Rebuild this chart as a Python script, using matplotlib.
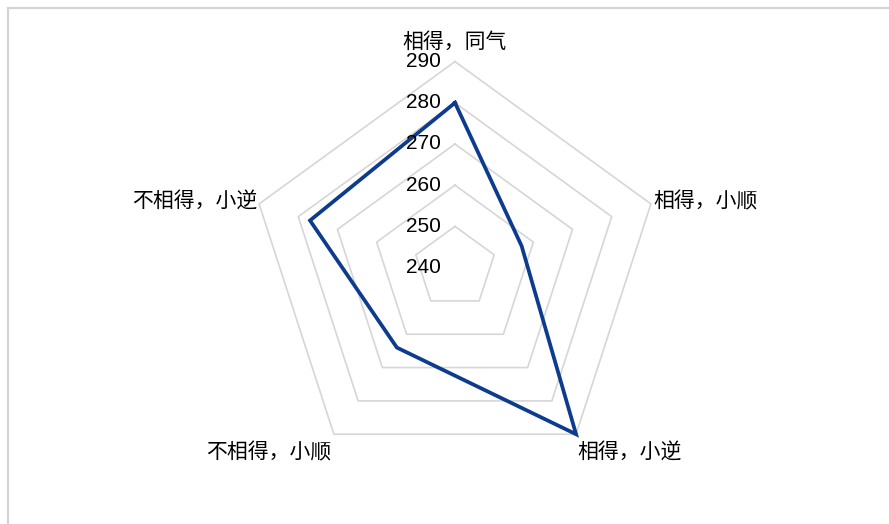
import numpy as np
import matplotlib.pyplot as plt
from matplotlib.lines import Line2D

# data
categories = ["相得，同气", "相得，小顺", "相得，小逆", "不相得，小顺", "不相得，小逆"]
values = [280, 257, 290, 264, 277]
ring_levels = [250, 260, 270, 280, 290]
tick_labels = ["240", "250", "260", "270", "280", "290"]
tick_values = [240, 250, 260, 270, 280, 290]
r_min, r_max = 240, 290

cjk = ["Noto Sans CJK SC", "DejaVu Sans"]

fig = plt.figure(figsize=(8.89, 5.24), dpi=100)
fig.patch.set_facecolor("white")

# outer frame (only top and left edges visible in the picture)
fig.add_artist(Line2D([8 / 889, 8 / 889], [0, 1 - 8 / 524], color="#d4d4d4", lw=1.6))
fig.add_artist(Line2D([8 / 889, 1], [1 - 8 / 524, 1 - 8 / 524], color="#d4d4d4", lw=1.6))

ax = fig.add_axes([0.2801, 0.0962, 0.4634, 0.7863], projection="polar")
ax.set_theta_zero_location("N")
ax.set_theta_direction(-1)
ax.set_rlim(r_min, r_max)
ax.set_xticks([])
ax.set_yticks([])
ax.grid(False)
ax.spines["polar"].set_visible(False)
ax.patch.set_alpha(0)

n = len(categories)
angles = np.linspace(0, 2 * np.pi, n, endpoint=False)
closed = np.append(angles, angles[0])

# pentagon grid
for lvl in ring_levels:
    ax.plot(closed, [lvl] * (n + 1), color="#d6d6d6", lw=1.2, clip_on=False, zorder=1)

# data series
ax.plot(closed, values + [values[0]], color="#0d3b8e", lw=2.7, clip_on=False,
        solid_joinstyle="miter", zorder=3)

# radial tick labels
for v, t in zip(tick_values, tick_labels):
    ax.annotate(t, xy=(0, v), xytext=(-10, 0), textcoords="offset points",
                ha="right", va="center", fontsize=15, family="Liberation Sans",
                annotation_clip=False)

# category labels
label_pos = [
    ((0, 14.5), "center", "center"),
    ((2, 2), "left", "center"),
    ((1, -13), "left", "center"),
    ((-2, -13), "right", "center"),
    ((-1, 2), "right", "center"),
]
for ang, cat, (off, ha, va) in zip(angles, categories, label_pos):
    ax.annotate(cat, xy=(ang, r_max), xytext=off, textcoords="offset points",
                ha=ha, va=va, fontsize=15, family=cjk, annotation_clip=False)

fig.savefig("out.png", dpi=100, facecolor="white")
